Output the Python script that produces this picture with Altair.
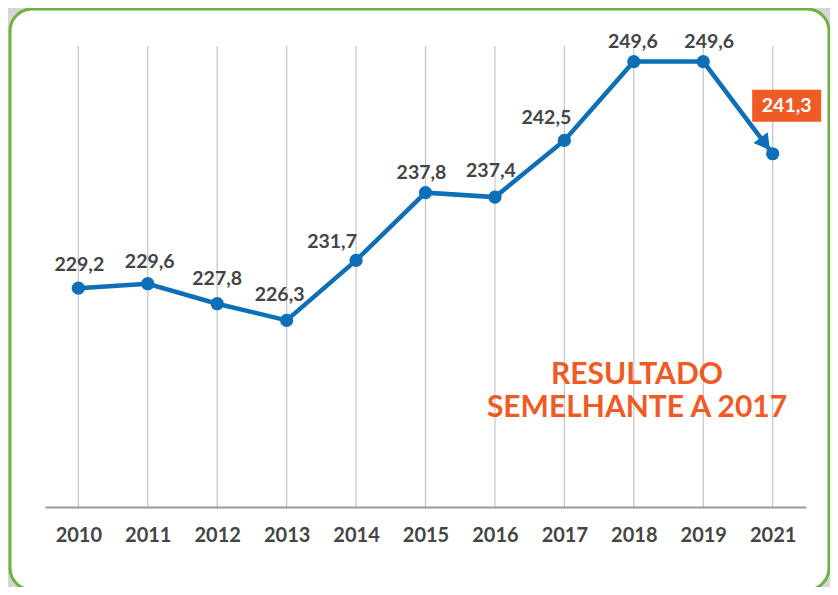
import altair as alt
import pandas as pd

years = ["2010", "2011", "2012", "2013", "2014", "2015", "2016", "2017", "2018", "2019", "2021"]
values = [229.2, 229.6, 227.8, 226.3, 231.7, 237.8, 237.4, 242.5, 249.6, 249.6, 241.3]
labels = [f"{v:.1f}".replace(".", ",") for v in values]
note_lines = ["RESULTADO", "SEMELHANTE A 2017"]

# label placement relative to each point (pixels)
label_dx = [1, 2, 0, -7, -24, -4, -4, -18, -1, 6, 14]
label_dy = [-23, -22, -25, -25, -18, -20, -26, -22, -20, -20, -48]

BLUE = "#0d6fb8"
ORANGE = "#f05a24"
GREEN = "#6cb33e"
GRAY_TXT = "#454545"
FONT = "Lato"

df = pd.DataFrame({"year": years, "value": values, "label": labels,
                   "dx": label_dx, "dy": label_dy})
one = pd.DataFrame({"k": [0]})

W, H = 761, 461
YMIN, YMAX = 209.5, 251
xs = alt.Scale(type="point", padding=0.48, domain=years)
ys = alt.Scale(domain=[YMIN, YMAX], zero=False, nice=False)
unit_per_px = (YMAX - YMIN) / H

card = alt.Chart(one).mark_rect(
    fill="white", stroke=GREEN, strokeWidth=3, cornerRadius=22
).encode(
    x=alt.value(-35), x2=alt.value(W + 23), y=alt.value(-37), y2=alt.value(H + 83)
)

grid = alt.Chart(df).mark_rule(color="#c4c4c4", strokeWidth=1.2).encode(
    x=alt.X("year:O", scale=xs,
            axis=alt.Axis(title=None, grid=False, ticks=False, domain=True,
                          domainColor="#9a9a9a", domainWidth=2,
                          labelFont=FONT, labelFontSize=20, labelFontWeight="bold",
                          labelColor=GRAY_TXT, labelPadding=18, labelAngle=0,
                          zindex=1)),
    y=alt.value(0), y2=alt.value(H)
)

line = alt.Chart(df).mark_line(color=BLUE, strokeWidth=4.5).encode(
    x=alt.X("year:O", scale=xs),
    y=alt.Y("value:Q", scale=ys, axis=None)
)

pts = alt.Chart(df).mark_circle(color=BLUE, size=175, opacity=1).encode(
    x=alt.X("year:O", scale=xs),
    y=alt.Y("value:Q", scale=ys)
)

arrow = alt.Chart(df).transform_filter(alt.datum.year == "2021").mark_point(
    shape="triangle", filled=True, color=BLUE, size=320, opacity=1,
    angle=143, xOffset=-9, yOffset=-12
).encode(
    x=alt.X("year:O", scale=xs),
    y=alt.Y("value:Q", scale=ys)
)

box = alt.Chart(df).transform_filter(alt.datum.year == "2021").mark_point(
    shape="M-1,-0.464L1,-0.464L1,0.464L-1,0.464Z", filled=True, color=ORANGE,
    size=69 * 69, opacity=1, xOffset=14, yOffset=-48
).encode(
    x=alt.X("year:O", scale=xs),
    y=alt.Y("value:Q", scale=ys)
)

txt = alt.Chart(df).transform_calculate(
    ly=f"datum.value - datum.dy * {unit_per_px}"
).mark_text(
    font=FONT, fontSize=19.5, fontWeight="bold", baseline="middle", align="center"
).encode(
    x=alt.X("year:O", scale=xs),
    y=alt.Y("ly:Q", scale=ys),
    xOffset=alt.XOffset("dx:Q", scale=None),
    text="label:N",
    color=alt.condition(alt.datum.year == "2021", alt.value("white"), alt.value(GRAY_TXT))
)

note = alt.Chart(one).mark_text(
    font=FONT, fontSize=30, fontWeight="bold", color=ORANGE,
    align="center", baseline="middle", lineHeight=33
).encode(
    x=alt.value(592), y=alt.value(329),
    text=alt.value(note_lines)
)

chart = alt.layer(card, grid, line, pts, arrow, box, txt, note).properties(
    width=W, height=H,
    padding={"left": 37, "top": 38, "right": 24, "bottom": 80},
    autosize=alt.AutoSizeParams(type="none")
).configure(background="#d6d6d6").configure_view(strokeWidth=0)

chart.save("out.html", embed_options={"renderer": "svg", "actions": False})
